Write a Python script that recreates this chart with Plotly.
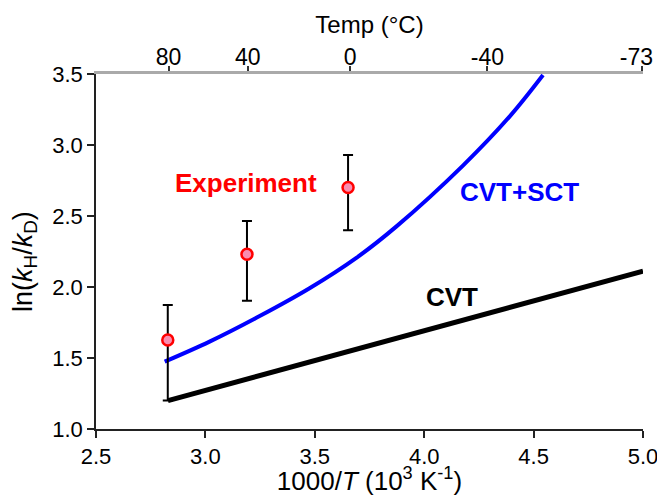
import plotly.graph_objects as go

# Experimental points (1000/T, ln(kH/kD)) with asymmetric errors
exp_x = [2.828, 3.190, 3.652]
exp_y = [1.627, 2.230, 2.700]
exp_err_plus = [0.246, 0.235, 0.230]
exp_err_minus = [0.427, 0.326, 0.300]

# CVT+SCT curve
sct_x = [2.814, 3.019, 3.248, 3.476, 3.690, 3.872, 4.177, 4.390, 4.543]
sct_y = [1.474, 1.615, 1.795, 1.991, 2.205, 2.425, 2.855, 3.200, 3.493]

# CVT line
cvt_x = [2.829, 5.000]
cvt_y = [1.200, 2.112]

# Top axis temperatures (°C)
temps_c = [80, 40, 0, -40, -73]
temp_labels = ["80", "40", "0", "-40", "-73\u2002"]

FONT = "Liberation Sans, Arial, sans-serif"

fig = go.Figure()

fig.add_trace(go.Scatter(x=cvt_x, y=cvt_y, mode="lines",
                         line=dict(color="black", width=5),
                         showlegend=False, hoverinfo="skip"))
fig.add_trace(go.Scatter(x=sct_x, y=sct_y, mode="lines",
                         line=dict(color="#0000ff", width=4, shape="spline", smoothing=1.0),
                         showlegend=False, hoverinfo="skip"))
fig.add_trace(go.Scatter(x=exp_x, y=exp_y, mode="markers",
                         marker=dict(size=11, color="#f98db0",
                                     line=dict(color="#ff0000", width=2.5)),
                         error_y=dict(type="data", symmetric=False,
                                      array=exp_err_plus, arrayminus=exp_err_minus,
                                      color="black", thickness=2, width=5),
                         showlegend=False))

tick_pos = [1000.0 / (t + 273.15) for t in temps_c]
fig.add_trace(go.Scatter(x=tick_pos, y=[None] * len(tick_pos), xaxis="x2",
                         mode="markers", showlegend=False, hoverinfo="skip"))

fig.add_annotation(x=3.184, y=2.732, text="<b>Experiment</b>", showarrow=False,
                   font=dict(family=FONT, size=26, color="#ff0000"))
fig.add_annotation(x=4.436, y=2.669, text="<b>CVT+SCT</b>", showarrow=False,
                   font=dict(family=FONT, size=26, color="#0000ff"))
fig.add_annotation(x=4.125, y=1.93, text="<b>CVT</b>", showarrow=False,
                   font=dict(family=FONT, size=26, color="black"))

# y-axis title as a rotated annotation
fig.add_annotation(xref="paper", yref="paper", x=-0.13, y=0.473,
                   text="ln(<i>k</i><sub>H</sub>/<i>k</i><sub>D</sub>)",
                   textangle=-90, showarrow=False, xanchor="center", yanchor="middle",
                   font=dict(family=FONT, size=27, color="black"))

fig.update_layout(
    width=657, height=496,
    margin=dict(l=96, r=14, t=74, b=67, autoexpand=False),
    paper_bgcolor="white", plot_bgcolor="white",
    font=dict(family=FONT, size=22, color="black"),
    xaxis=dict(range=[2.5, 5.0], dtick=0.5, tick0=2.5, tickformat=".1f",
               showline=True, linecolor="#222", linewidth=1.5,
               ticks="outside", ticklen=7, tickcolor="#222", tickwidth=1.5,
               ticklabeloverflow="allow",
               showgrid=False, zeroline=False,
               title=dict(text="1000/<i>T</i> (10<sup>3</sup> K<sup>-1</sup>)",
                          font=dict(size=26), standoff=4)),
    xaxis2=dict(range=[2.5, 5.0], overlaying="x", side="top",
                tickvals=tick_pos, ticktext=temp_labels, tickfont=dict(size=23),
                showline=True, linecolor="#aaaaaa", linewidth=2.5,
                ticks="outside", ticklen=5, tickcolor="#333", tickwidth=1.5,
                ticklabeloverflow="allow", ticklabelstandoff=-8,
                showgrid=False, zeroline=False,
                title=dict(text="Temp (°C)", font=dict(size=24), standoff=4)),
    yaxis=dict(range=[1.0, 3.5], dtick=0.5, tick0=1.0, tickformat=".1f",
               showline=True, linecolor="#222", linewidth=1.5,
               ticks="outside", ticklen=7, tickcolor="#222", tickwidth=1.5,
               showgrid=False, zeroline=False),
)

fig.write_html("out.html", config={"displayModeBar": False},
               post_script="document.body.style.margin='0';document.body.style.overflow='hidden';")
